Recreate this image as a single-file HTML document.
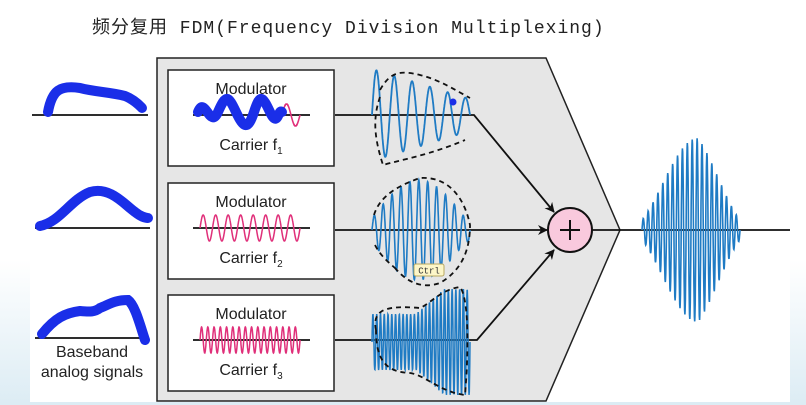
<!DOCTYPE html>
<html><head><meta charset="utf-8">
<style>
html,body{margin:0;padding:0;width:806px;height:405px;overflow:hidden;background:#fff}
svg{display:block}
text{font-family:"Liberation Sans Narrow","Liberation Sans",sans-serif}
</style></head><body>
<svg id="s" width="806" height="405" viewBox="0 0 806 405" xmlns="http://www.w3.org/2000/svg">
<defs>
<linearGradient id="bg" x1="0" y1="0" x2="0" y2="1">
<stop offset="0" stop-color="#fff"/><stop offset="1" stop-color="#dcecf4"/>
</linearGradient>
<marker id="ar" markerWidth="10" markerHeight="10" refX="9" refY="5" orient="auto" markerUnits="userSpaceOnUse">
<path d="M0,0 L10,5 L0,10 L3,5 Z" fill="#111"/></marker>
</defs>
<rect x="0" y="260" width="806" height="145" fill="url(#bg)"/>
<rect x="30" y="50" width="760" height="352" fill="#fff"/>
<text x="92" y="33" font-size="18" fill="#222" letter-spacing="1" style="font-family:'Liberation Mono','Noto Sans CJK SC',monospace">频分复用 FDM(Frequency Division Multiplexing)</text>
<polygon points="157,58 546,58 620,230 546,401 157,401" fill="#e6e6e6" stroke="#222" stroke-width="1.5"/>
<g fill="#fff" stroke="#222" stroke-width="1.5">
<rect x="168" y="70" width="166" height="96"/>
<rect x="168" y="183" width="166" height="96"/>
<rect x="168" y="295" width="166" height="96"/>
</g>
<g font-size="16" fill="#222" text-anchor="middle">
<text x="251" y="94">Modulator</text>
<text x="251" y="150">Carrier f<tspan font-size="10" dy="4">1</tspan></text>
<text x="251" y="207">Modulator</text>
<text x="251" y="263">Carrier f<tspan font-size="10" dy="4">2</tspan></text>
<text x="251" y="319">Modulator</text>
<text x="251" y="375">Carrier f<tspan font-size="10" dy="4">3</tspan></text>
<text x="92" y="357">Baseband</text>
<text x="92" y="377">analog signals</text>
</g>
<g stroke="#111" stroke-width="1.8" fill="none">
<line x1="193" y1="115" x2="310" y2="115"/>
<line x1="193" y1="228" x2="310" y2="228"/>
<line x1="193" y1="340" x2="310" y2="340"/>
<polyline points="335,115 474,115 554,212" marker-end="url(#ar)"/>
<line x1="335" y1="230" x2="547" y2="230" marker-end="url(#ar)"/>
<polyline points="335,340 477,340 554,250" marker-end="url(#ar)"/>
<line x1="592" y1="230" x2="790" y2="230"/>
<line x1="32" y1="115" x2="148" y2="115"/>
<line x1="35" y1="228" x2="150" y2="228"/>
<line x1="35" y1="338" x2="148" y2="338"/>
</g>
<g id="w"></g>
<circle cx="570" cy="230" r="22" fill="#f9c9dd" stroke="#111" stroke-width="2"/>
<path d="M560,230 H580 M570,220 V240" stroke="#111" stroke-width="2"/>
<g fill="none" stroke="#1a2ee8" stroke-width="10" stroke-linecap="round">
<path d="M48,112 C52,90 60,85 80,88 C95,92 110,92 125,96 C135,100 140,106 142,108"/>
<path d="M40,226 C60,222 70,200 90,192 C110,186 125,205 135,212 C140,216 145,218 148,218"/>
<path d="M42,334 C55,318 65,313 80,311 C90,312 95,312 100,308 C110,304 115,300 128,300 C135,305 140,325 145,340"/>
<path d="M198,112 C205,95 210,130 218,112 S228,95 236,112 S248,130 254,112 S262,95 270,112 S278,108 282,112"/>
</g>
<circle cx="453" cy="102" r="3.5" fill="#1a2ee8"/>
<rect x="414" y="264" width="30" height="12" rx="2" fill="#fdf6c8" stroke="#b9a860"/>
<text x="429" y="273.5" font-size="9" text-anchor="middle" fill="#333" style="font-family:'Liberation Mono',monospace">Ctrl</text>
</svg>
<script>
var g=document.getElementById('w'),NS="http://www.w3.org/2000/svg";
function add(d,c,w,dash){var p=document.createElementNS(NS,'path');p.setAttribute('d',d);p.setAttribute('fill','none');p.setAttribute('stroke',c);p.setAttribute('stroke-width',w||1.5);if(dash)p.setAttribute('stroke-dasharray',dash);g.appendChild(p);}
function wave(x0,x1,y,cyc,amp,c,w){var d='';for(var i=0;i<=400;i++){var t=i/400,x=x0+(x1-x0)*t;var a=amp(t);d+=(i?'L':'M')+x.toFixed(1)+','+(y-a*Math.sin(2*Math.PI*cyc*t)).toFixed(1);}add(d,c,w);}
wave(282,300,115,1,function(){return 11},'#e0307a',1.5);
wave(200,300,228,8,function(){return 13},'#e0307a',1.5);
wave(200,300,340,16,function(){return 13},'#e0307a',1.5);
wave(372,470,115,5.5,function(t){return 46-30*t},'#1f7bc4',1.8);
add('M380,97 C372,120 375,140 383,165 C400,160 430,155 465,140 M380,90 C390,72 400,70 420,75 C440,80 455,90 470,98','#111',1.8,'5,4');
wave(372,470,230,11,function(t){return 12+38*Math.sin(Math.PI*Math.min(1,t*1.05))},'#1f7bc4',1.6);
add('M374,215 C380,195 400,185 420,178 C450,176 465,200 470,225 C470,250 462,270 440,283 C420,290 405,280 395,268 M375,245 C380,255 388,262 395,268','#111',1.8,'5,4');
wave(372,470,342,26,function(t){return t<0.45?28:28+25*Math.min(1,(t-0.45)*3.5)},'#1f7bc4',1.5);
add('M376,330 C372,310 385,305 420,308 C430,304 440,290 460,287 C470,300 468,360 465,395 C440,392 425,375 410,373 C390,372 376,365 376,330','#111',1.8,'5,4');
wave(642,740,230,20,function(t){return 10+84*Math.pow(Math.sin(Math.PI*t),1.1)*(t<0.58?0.6+0.7*t:1-0.9*(t-0.58))},'#1f7bc4',1.6);
</script>
</body></html>
